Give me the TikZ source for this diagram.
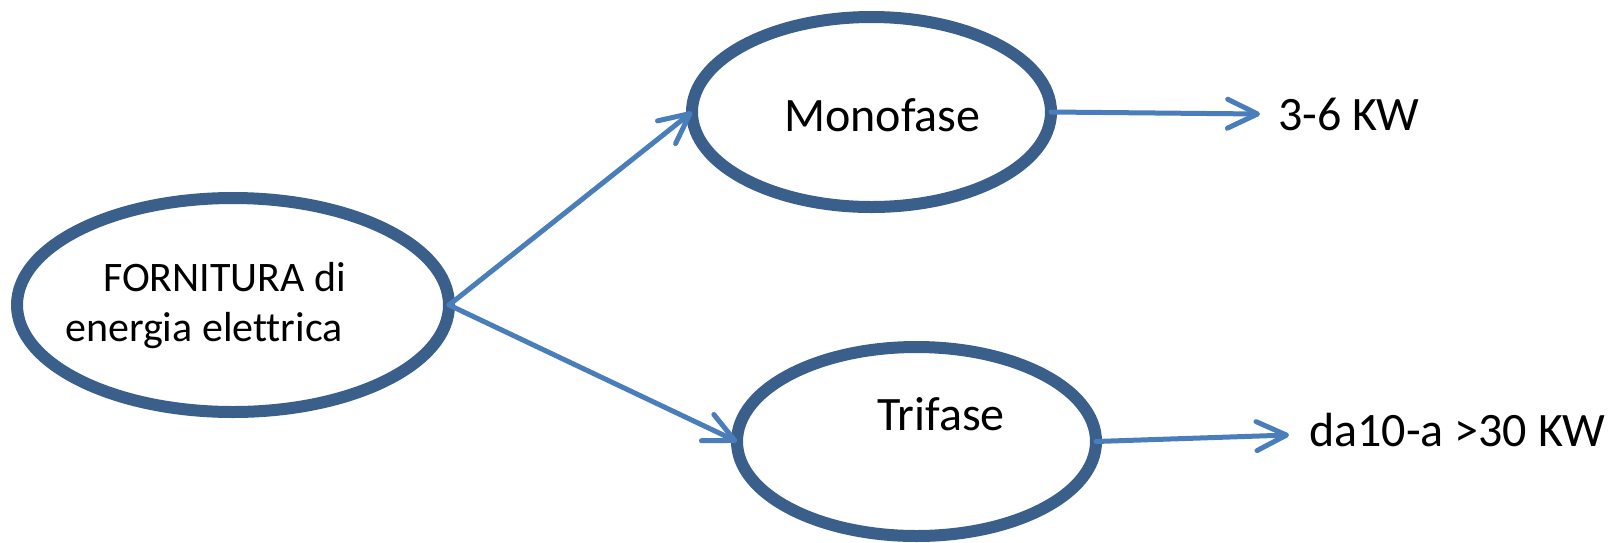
\documentclass[tikz,border=0pt]{standalone}
\usepackage{fontspec}
\setmainfont{Carlito}[Ligatures=CommonOff]
\usetikzlibrary{shapes.geometric,arrows.meta}
\definecolor{rim}{HTML}{3A5F8B}
\definecolor{link}{HTML}{4A7EBB}
\tikzset{
  oval/.style={ellipse, draw=rim, line width=12pt, fill=white, inner sep=0pt, outer sep=0pt},
  lbl/.style={anchor=base west, inner sep=0pt, font=\fontsize{48}{58}\selectfont},
  lblsmall/.style={anchor=base west, inner sep=0pt, font=\fontsize{42}{50}\selectfont},
  flow/.style={draw=link, line width=5pt, line cap=round,
    -{Straight Barb[length=30pt, width=29pt, line cap=round, line join=round]}},
}
\begin{document}
\begin{tikzpicture}[x=1pt, y=-1pt]
\useasboundingbox (0,0) rectangle (1612,542);

% the three ellipses
\node[oval, minimum width=432pt, minimum height=214pt] (src) at (233,305) {};
\node[oval, minimum width=359pt, minimum height=190pt] (mono) at (871.5,112) {};
\node[oval, minimum width=359pt, minimum height=189pt] (tri) at (916.5,441.5) {};

% texts
\node[lblsmall] (srcA) at (103,291) {FORNITURA di};
\node[lblsmall] (srcB) at (65,341) {energia elettrica};
\node[lbl] (monoT) at (784,131) {Monofase};
\node[lbl] (triT) at (877,430) {Trifase};
\node[lbl] (kwA) at (1278,130.5) {3-6 KW};
\node[lbl] (kwB) at (1309,446) {da10-a >30 KW};

% arrow tips in front of the power ranges
\coordinate (tipA) at (1260,114);
\coordinate (tipB) at (1289,435);

% connectors
\draw[flow] (src.east) -- (mono.west);
\draw[flow] (src.east) -- (tri.west);
\draw[flow] (mono.east) -- (tipA);
\draw[flow] (tri.east) -- (tipB);
\end{tikzpicture}
\end{document}
